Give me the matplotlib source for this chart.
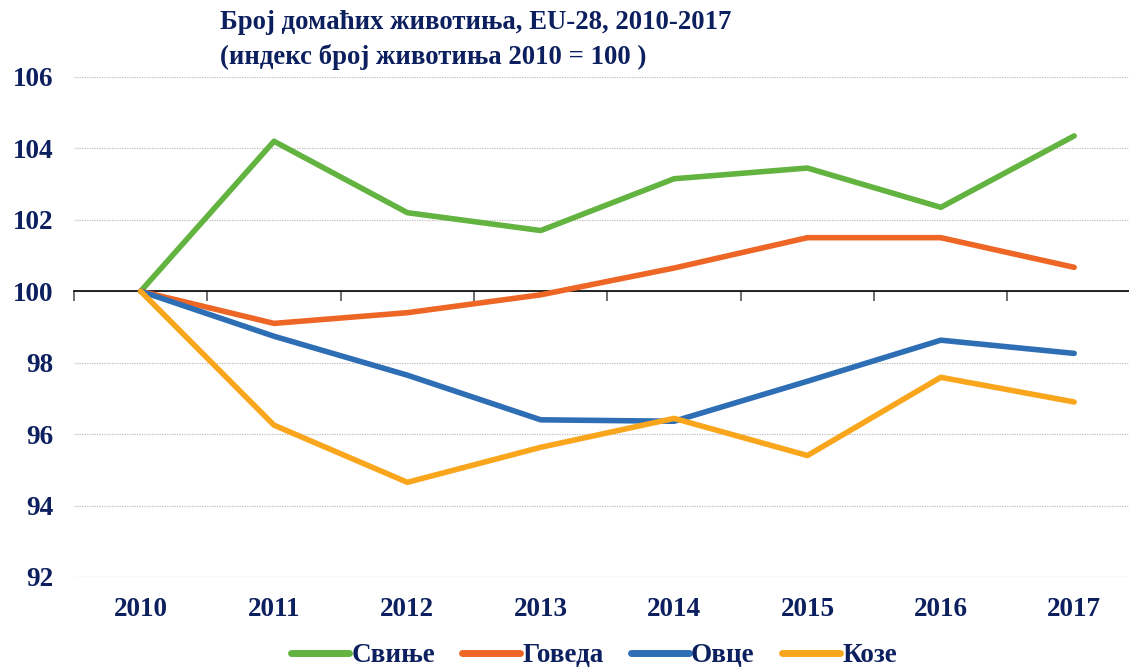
import matplotlib.pyplot as plt
import matplotlib.transforms as mtransforms
import numpy as np

plt.rcParams['font.family'] = ['Liberation Serif', 'DejaVu Serif']
plt.rcParams['font.weight'] = 'bold'

# data (index 2010 = 100)
years = ['2010', '2011', '2012', '2013', '2014', '2015', '2016', '2017']
svinje = [100, 104.2, 102.2, 101.7, 103.15, 103.45, 102.35, 104.35]
goveda = [100, 99.1, 99.4, 99.9, 100.65, 101.5, 101.5, 100.67]
ovce = [100, 98.74, 97.65, 96.4, 96.36, 97.48, 98.63, 98.26]
koze = [100, 96.25, 94.65, 95.63, 96.44, 95.4, 97.59, 96.9]

names = ['Свиње', 'Говеда', 'Овце', 'Козе']
colors = ['#62B33F', '#EE6626', '#2E6EB5', '#F9A61C']
navy = '#0C1F5E'

fig = plt.figure(figsize=(11.29, 6.67), dpi=100)
ax = fig.add_axes([0.0655, 0.135, 0.945, 0.7496])

x = np.arange(len(years))
for vals, name, c in zip([svinje, goveda, ovce, koze], names, colors):
    ax.plot(x, vals, color=c, lw=4, label=name, solid_capstyle='round', solid_joinstyle='round')

ax.set_xlim(-0.5, len(years) - 0.5)
ax.set_ylim(92, 106)
ax.set_yticks(np.arange(92, 107, 2))
ax.yaxis.grid(True, color='#BFBFBF', linestyle=(0, (1, 1)), lw=0.9)
ax.set_axisbelow(True)
ax.tick_params(axis='y', length=0, pad=15, labelsize=19.5, labelcolor=navy)

for s in ['top', 'right', 'left']:
    ax.spines[s].set_visible(False)
ax.spines['bottom'].set_position(('data', 100))
ax.spines['bottom'].set_color('black')
ax.spines['bottom'].set_linewidth(1.2)
ax.spines['bottom'].set_zorder(1)
ax.set_xticks(x)
ax.set_xticklabels([])
ax.tick_params(axis='x', which='major', length=0)
ax.set_xticks(np.arange(-0.5, len(years), 1), minor=True)
ax.tick_params(axis='x', which='minor', length=7, width=1.2, color='#555555', direction='out')

trans = mtransforms.blended_transform_factory(ax.transData, ax.transAxes)
for xi, yr in zip(x, years):
    ax.text(xi, -0.065, yr, transform=trans, ha='center', va='center',
            fontsize=19.5, color=navy, fontweight='bold')

fig.text(0.195, 0.966, 'Број домаћих животиња, EU-28, 2010-2017', ha='left', va='center',
         fontsize=19.3, color=navy, fontweight='bold')
fig.text(0.195, 0.915, '(индекс број животиња 2010 = 100 )', ha='left', va='center',
         fontsize=19.3, color=navy, fontweight='bold')

leg = fig.legend(loc='center', bbox_to_anchor=(0.526, 0.017), ncol=4, frameon=False,
                 fontsize=19.5, handlelength=2.15, handletextpad=0.08, columnspacing=1.0,
                 labelcolor=navy)
for h in leg.get_lines():
    h.set_linewidth(5)

fig.savefig('out.png', dpi=100)
